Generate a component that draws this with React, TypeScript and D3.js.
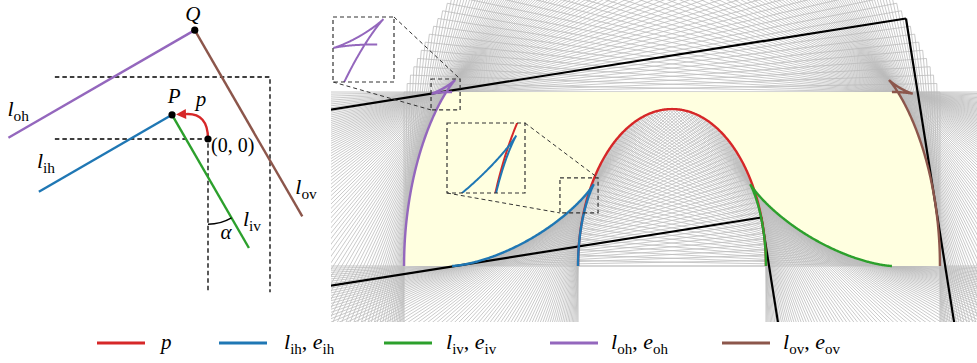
import React from 'react';
import * as d3 from 'd3';

type Pt = [number, number];

// construction, in units of the hallway width
const TRACK_A = 0.54; // half-width of the inner-corner track p
const TRACK_B = 0.902; // height of the inner-corner track p
const SWEEP_DEG = d3.range(0, 90.001, 1); // grey hallway positions
const CURVE_DEG = d3.range(0, 90.001, 0.25); // sampling of p and the envelopes
const CURRENT_DEG = 9; // black hallway
const RAY = 6;

// left sketch
const SKETCH_DEG = 30;
const SKETCH_P: Pt = [-0.58, 0.39];
const SKETCH_INNER_LEN = 2.48;
const SKETCH_OUTER_LEN = 3.47;
const SKETCH_WALL_LEN = 2.47;
const SKETCH_ARC_R = 0.76;

// legend
const LEGEND_KEYS = ['p', 'ih', 'iv', 'oh', 'ov'];
const COLORS: Record<string, string> = {
  p: '#d62728',
  ih: '#1f77b4',
  iv: '#2ca02c',
  oh: '#9467bd',
  ov: '#8c564b',
};

// zoomed insets: small box in sofa coords, big box in px
const INSETS = [
  { keys: ['oh'], xd: [-1.385, -1.218], yd: [0.897, 1.075], box: [333, 17, 394, 82] },
  { keys: ['p', 'ih'], xd: [-0.644, -0.425], yd: [0.305, 0.506], box: [447, 123, 525, 193] },
];

const X_DOMAIN = [-1.96, 1.753];
const Y_DOMAIN = [-0.322, 1.529];
const SERIF = '"Liberation Serif", "DejaVu Serif", serif';

const rad = (d: number) => (d * Math.PI) / 180;
const rot = (a: number, [u, v]: Pt): Pt => [u * Math.cos(a) - v * Math.sin(a), u * Math.sin(a) + v * Math.cos(a)];
const add = (a: Pt, b: Pt, k = 1): Pt => [a[0] + k * b[0], a[1] + k * b[1]];
const dot = (a: Pt, b: Pt) => a[0] * b[0] + a[1] * b[1];
const track = (a: number): Pt => [TRACK_A * Math.cos(2 * a), TRACK_B * Math.sin(2 * a)];
const trackD = (a: number): Pt => [-2 * TRACK_A * Math.sin(2 * a), 2 * TRACK_B * Math.cos(2 * a)];

// envelope of the wall family (inner / outer, horizontal / vertical)
function envelope(a: number, outer: boolean, vertical: boolean): Pt {
  const p = track(a);
  const dp = trackD(a);
  const off = outer ? 1 : 0;
  if (!vertical) {
    const n = rot(a, [0, 1]);
    const d = rot(a, [-1, 0]);
    const f = dot(n, p) + off;
    const fd = dot(d, p) + dot(n, dp);
    return [f * n[0] + fd * d[0], f * n[1] + fd * d[1]];
  }
  const n = rot(a, [1, 0]);
  const d = rot(a, [0, -1]);
  const g = dot(n, p) + off;
  const gd = -dot(d, p) + dot(n, dp);
  return [g * n[0] - gd * d[0], g * n[1] - gd * d[1]];
}

function hallway(a: number, P: Pt, innerLen: number, outerLen: number) {
  const Q = add(P, rot(a, [1, 1]));
  const dh = rot(a, [-1, 0]);
  const dv = rot(a, [0, -1]);
  return {
    P,
    Q,
    dv,
    ih: [P, add(P, dh, innerLen)] as Pt[],
    iv: [P, add(P, dv, innerLen)] as Pt[],
    oh: [Q, add(Q, dh, outerLen)] as Pt[],
    ov: [Q, add(Q, dv, outerLen)] as Pt[],
  };
}

// complement of the L-shaped hallway, in hallway coords
const M = 8;
const OUTSIDE: Pt[][] = [
  [[-M, 1], [M, 1], [M, M], [-M, M]],
  [[1, -M], [M, -M], [M, M], [1, M]],
  [[0, 0], [-M, 0], [-M, -M], [0, -M]],
];

const Sym = ({ x, y, base, sub, size = 21, anchor = 'start' }: any) => (
  <text x={x} y={y} fontFamily={SERIF} fontSize={size} textAnchor={anchor}>
    <tspan fontStyle="italic">{base}</tspan>
    {sub && <tspan fontSize={size * 0.7} dy={5}>{sub}</tspan>}
  </text>
);

export default function App() {
  const xs = d3.scaleLinear().domain(X_DOMAIN).range([331, 977]);
  const ys = d3.scaleLinear().domain(Y_DOMAIN).range([322, 0]);
  const lineOf = (sx: any, sy: any) => d3.line<Pt>().x(d => sx(d[0])).y(d => sy(d[1]));
  const mainLine = lineOf(xs, ys);
  const seg = (s: Pt[]) => `M${xs(s[0][0])},${ys(s[0][1])}L${xs(s[1][0])},${ys(s[1][1])}`;

  const angles = CURVE_DEG.map(rad);
  const curves: Record<string, Pt[]> = {
    p: angles.map(track),
    ih: angles.map(a => envelope(a, false, false)),
    iv: angles.map(a => envelope(a, false, true)),
    oh: angles.map(a => envelope(a, true, false)),
    ov: angles.map(a => envelope(a, true, true)),
  };

  const sweep = SWEEP_DEG.map(d => {
    const a = rad(d);
    return { a, h: hallway(a, track(a), RAY, RAY) };
  });
  const greyPath = sweep.map(({ h }) => seg(h.ih) + seg(h.iv) + seg(h.oh) + seg(h.ov)).join('');
  const outside = sweep.flatMap(({ a, h }) => OUTSIDE.map(poly => poly.map(uv => add(h.P, rot(a, uv)))));
  const cur = hallway(rad(CURRENT_DEG), track(rad(CURRENT_DEG)), RAY, RAY);

  // left sketch
  const lx = d3.scaleLinear().domain([0, 1]).range([208, 270]);
  const ly = d3.scaleLinear().domain([0, 1]).range([139, 77]);
  const sketchLine = lineOf(lx, ly);
  const sk = hallway(rad(SKETCH_DEG), SKETCH_P, SKETCH_INNER_LEN, SKETCH_OUTER_LEN);
  const L = SKETCH_WALL_LEN;
  const dashed: Pt[][] = [
    [[-L, 0], [0, 0], [0, -L]],
    [[-L, 1], [1, 1], [1, -L]],
  ];
  const O: Pt = [lx(0), ly(0)];
  const Ps: Pt = [lx(sk.P[0]), ly(sk.P[1])];
  const Qs: Pt = [lx(sk.Q[0]), ly(sk.Q[1])];
  const ctrl: Pt = [lx(0), ly(0.42)];
  const dir = [Ps[0] - ctrl[0], Ps[1] - ctrl[1]];
  const dl = Math.hypot(dir[0], dir[1]);
  const u: Pt = [dir[0] / dl, dir[1] / dl];
  const tip: Pt = [Ps[0] - u[0] * 4, Ps[1] - u[1] * 4];
  const base: Pt = [tip[0] - u[0] * 10, tip[1] - u[1] * 10];
  const arrowBody = d3.path();
  arrowBody.moveTo(O[0], O[1]);
  arrowBody.quadraticCurveTo(ctrl[0], ctrl[1], base[0], base[1]);
  const head = [
    tip,
    [base[0] - u[1] * 5, base[1] + u[0] * 5],
    [base[0] + u[1] * 5, base[1] - u[0] * 5],
  ];
  const tC = -sk.P[0] / sk.dv[0];
  const C = add(sk.P, sk.dv, tC);
  const Cs: Pt = [lx(C[0]), ly(C[1])];
  const rPx = lx(SKETCH_ARC_R) - lx(0);
  const angArc = d3.path();
  const a0 = Math.atan2(-sk.dv[1], sk.dv[0]);
  angArc.moveTo(Cs[0] + rPx * Math.cos(a0), Cs[1] + rPx * Math.sin(a0));
  angArc.arc(Cs[0], Cs[1], rPx, a0, Math.PI / 2);

  const endOf = (s: Pt[]): Pt => [lx(s[1][0]), ly(s[1][1])];

  const legendLineX = [97, 219, 384, 550, 722];
  const legendTextX = [161, 284, 446, 611, 783];
  const LY = 343;

  return (
    <svg width={977} height={363} style={{ position: 'absolute', left: 0, top: 0, background: '#fff' }}>
      <defs>
        <clipPath id="panel">
          <rect x={331} y={0} width={646} height={322} />
        </clipPath>
        <mask id="sofa" maskUnits="userSpaceOnUse" x={0} y={0} width={977} height={363}>
          <rect x={0} y={0} width={977} height={363} fill="#fff" />
          {outside.map((poly, i) => (
            <polygon key={i} points={poly.map(p => `${xs(p[0])},${ys(p[1])}`).join(' ')} fill="#000" />
          ))}
        </mask>
        {INSETS.map((ins, i) => (
          <clipPath id={`inset${i}`} key={i}>
            <rect x={ins.box[0]} y={ins.box[1]} width={ins.box[2] - ins.box[0]} height={ins.box[3] - ins.box[1]} />
          </clipPath>
        ))}
      </defs>

      {/* right panel */}
      <g clipPath="url(#panel)">
        <path d={greyPath} stroke="#bdbdbd" strokeWidth={0.8} fill="none" />
        <rect x={xs(-1.6)} y={ys(1)} width={xs(1.6) - xs(-1.6)} height={ys(0) - ys(1)} fill="#ffffe0" mask="url(#sofa)" />
        {[cur.ih, cur.iv, cur.oh, cur.ov].map((s, i) => (
          <path key={i} d={seg(s)} stroke="#000" strokeWidth={2.2} fill="none" />
        ))}
        {LEGEND_KEYS.map(k => (
          <path key={k} d={mainLine(curves[k]) as string} stroke={COLORS[k]} strokeWidth={2.4} fill="none" />
        ))}
      </g>

      {/* insets */}
      {INSETS.map((ins, i) => {
        const ix = d3.scaleLinear().domain(ins.xd).range([ins.box[0], ins.box[2]]);
        const iy = d3.scaleLinear().domain(ins.yd).range([ins.box[3], ins.box[1]]);
        const il = lineOf(ix, iy);
        const sx0 = xs(ins.xd[0]), sx1 = xs(ins.xd[1]);
        const sy0 = ys(ins.yd[0]), sy1 = ys(ins.yd[1]);
        const [bx0, by0, bx1, by1] = ins.box;
        return (
          <g key={i}>
            <g clipPath={`url(#inset${i})`}>
              {ins.keys.map(k => (
                <path key={k} d={il(curves[k]) as string} stroke={COLORS[k]} strokeWidth={2} fill="none" />
              ))}
            </g>
            <rect x={bx0} y={by0} width={bx1 - bx0} height={by1 - by0} fill="none" stroke="#333" strokeWidth={1.2} strokeDasharray="4,3" />
            <rect x={sx0} y={sy1} width={sx1 - sx0} height={sy0 - sy1} fill="none" stroke="#333" strokeWidth={1.2} strokeDasharray="4,3" />
            <line x1={bx1} y1={by0} x2={sx1} y2={sy1} stroke="#333" strokeWidth={1} strokeDasharray="4,3" />
            <line x1={bx0} y1={by1} x2={sx0} y2={sy0} stroke="#333" strokeWidth={1} strokeDasharray="4,3" />
          </g>
        );
      })}

      {/* left sketch */}
      <g>
        {dashed.map((pts, i) => (
          <path key={i} d={sketchLine(pts) as string} stroke="#000" strokeWidth={1.3} strokeDasharray="4.5,3" fill="none" />
        ))}
        {(['ih', 'iv', 'oh', 'ov'] as const).map(k => (
          <path key={k} d={sketchLine(sk[k]) as string} stroke={COLORS[k]} strokeWidth={2.4} fill="none" />
        ))}
        <path d={arrowBody.toString()} stroke={COLORS.p} strokeWidth={2.4} fill="none" />
        <polygon points={head.map(p => p.join(',')).join(' ')} fill={COLORS.p} />
        <path d={angArc.toString()} stroke="#000" strokeWidth={1.5} fill="none" />
        {[O, Ps, Qs].map((p, i) => (
          <circle key={i} cx={p[0]} cy={p[1]} r={3.6} fill="#000" />
        ))}
        <Sym x={Qs[0] - 2} y={Qs[1] - 9} base="Q" anchor="middle" />
        <Sym x={Ps[0] + 2} y={Ps[1] - 12} base="P" anchor="middle" />
        <Sym x={O[0] - 7} y={O[1] - 33} base="p" anchor="middle" />
        <text x={O[0] + 3} y={O[1] + 13} fontFamily={SERIF} fontSize={20}>(0, 0)</text>
        <Sym x={endOf(sk.oh)[0] - 1} y={endOf(sk.oh)[1] - 22} base="l" sub="oh" size={22} />
        <Sym x={endOf(sk.ih)[0] - 2} y={endOf(sk.ih)[1] - 24} base="l" sub="ih" size={22} />
        <Sym x={endOf(sk.ov)[0] - 7} y={endOf(sk.ov)[1] - 22} base="l" sub="ov" size={22} />
        <Sym x={endOf(sk.iv)[0] - 6} y={endOf(sk.iv)[1] - 22} base="l" sub="iv" size={22} />
        <Sym x={Cs[0] + 18} y={Cs[1] + 62} base="α" anchor="middle" />
      </g>

      {/* legend */}
      <g>
        {LEGEND_KEYS.map((k, i) => (
          <g key={k}>
            <line x1={legendLineX[i]} x2={legendLineX[i] + 48} y1={LY} y2={LY} stroke={COLORS[k]} strokeWidth={3} />
            {k === 'p' ? (
              <Sym x={legendTextX[i]} y={LY + 6} base="p" />
            ) : (
              <text x={legendTextX[i]} y={LY + 6} fontFamily={SERIF} fontSize={22}>
                <tspan fontStyle="italic">l</tspan>
                <tspan fontSize={15} dy={5}>{k}</tspan>
                <tspan dy={-5}>, </tspan>
                <tspan fontStyle="italic">e</tspan>
                <tspan fontSize={15} dy={5}>{k}</tspan>
              </text>
            )}
          </g>
        ))}
      </g>
    </svg>
  );
}
